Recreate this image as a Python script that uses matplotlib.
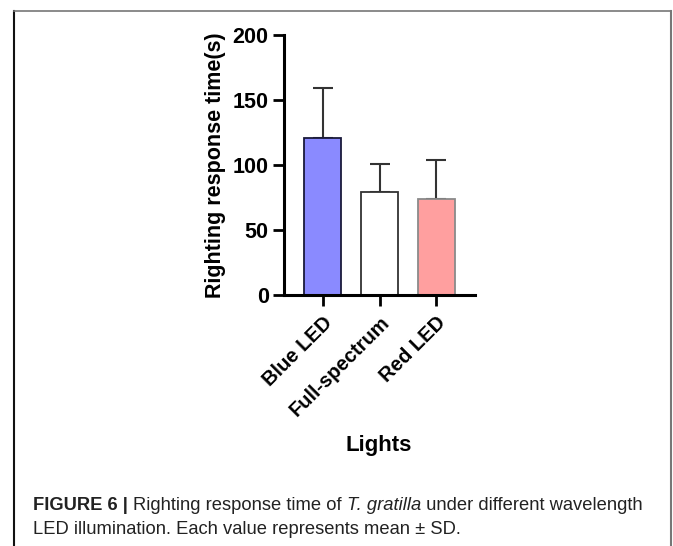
import numpy as np
import matplotlib
matplotlib.use('Agg')
import matplotlib.pyplot as plt
from matplotlib.lines import Line2D

lights = ['Blue LED', 'Full-spectrum', 'Red LED']
mean_time = [121, 79, 74]
sd_time = [38, 21.5, 29.5]
bar_colors = ['#8a8aff', '#ffffff', '#ff9f9f']
edge_colors = ['#1a1a3a', '#333333', '#8a8a8a']

W, H = 673, 546
fig = plt.figure(figsize=(W / 100, H / 100), dpi=100, facecolor='white')
plt.rcParams['font.family'] = ['Liberation Sans', 'DejaVu Sans']

# axes placed in pixel terms of the reference
ax = fig.add_axes([284 / W, 1 - 295 / H, (475 - 284) / W, (295 - 35) / H])
x = np.arange(len(lights))
ax.bar(x, mean_time, width=0.655, color=bar_colors, edgecolor=edge_colors,
       linewidth=1.3, zorder=2)
ax.errorbar(x, mean_time, yerr=[np.zeros(len(sd_time)), sd_time], fmt='none',
            ecolor='#333333', elinewidth=1.5, capsize=7, capthick=1.5, zorder=1)

ax.set_xlim(-0.69, 2.69)
ax.set_ylim(0, 200)
ax.set_yticks([0, 50, 100, 150, 200])
ax.set_xticks(x)
ax.set_xticklabels(lights, rotation=45, ha='right', rotation_mode='anchor',
                   fontsize=14.5, fontweight='bold')
for lab in ax.get_yticklabels():
    lab.set_fontsize(15.5)
    lab.set_fontweight('bold')
ax.tick_params(axis='both', width=2, length=8, pad=3, color='black')
ax.tick_params(axis='x', pad=5)
for s in ['top', 'right']:
    ax.spines[s].set_visible(False)
for s in ['left', 'bottom']:
    ax.spines[s].set_linewidth(2.2)
ax.set_ylabel('Righting response time(s)', fontsize=15.5, fontweight='bold', labelpad=5)
fig.text(379 / W, 1 - 445 / H, 'Lights', fontsize=16, fontweight='bold',
         ha='center', va='center')

# frame around the figure panel
fig.add_artist(Line2D([14 / W, 14 / W], [1 - 11 / H, 0], transform=fig.transFigure,
                      color='#111111', linewidth=1.5))
fig.add_artist(Line2D([14 / W, 671 / W], [1 - 11 / H, 1 - 11 / H], transform=fig.transFigure,
                      color='#777777', linewidth=1.2))
fig.add_artist(Line2D([671 / W, 671 / W], [1 - 11 / H, 0], transform=fig.transFigure,
                      color='#777777', linewidth=1.5))

# caption with mixed styles
renderer = fig.canvas.get_renderer()
cap_size = 13.2
cap_color = '#222222'


def put_pieces(pieces, x0, y0):
    xpos = x0
    for txt, weight, style in pieces:
        t = fig.text(xpos / W, 1 - y0 / H, txt, fontsize=cap_size, fontweight=weight,
                     fontstyle=style, color=cap_color, ha='left', va='baseline')
        bb = t.get_window_extent(renderer=renderer)
        xpos += bb.width


put_pieces([('FIGURE 6 | ', 'bold', 'normal'),
            ('Righting response time of ', 'normal', 'normal'),
            ('T. gratilla', 'normal', 'italic'),
            (' under different wavelength', 'normal', 'normal')], 33, 510)
put_pieces([('LED illumination. Each value represents mean \u00b1 SD.', 'normal', 'normal')], 33, 534)

fig.savefig('out.png', dpi=100, facecolor='white')
